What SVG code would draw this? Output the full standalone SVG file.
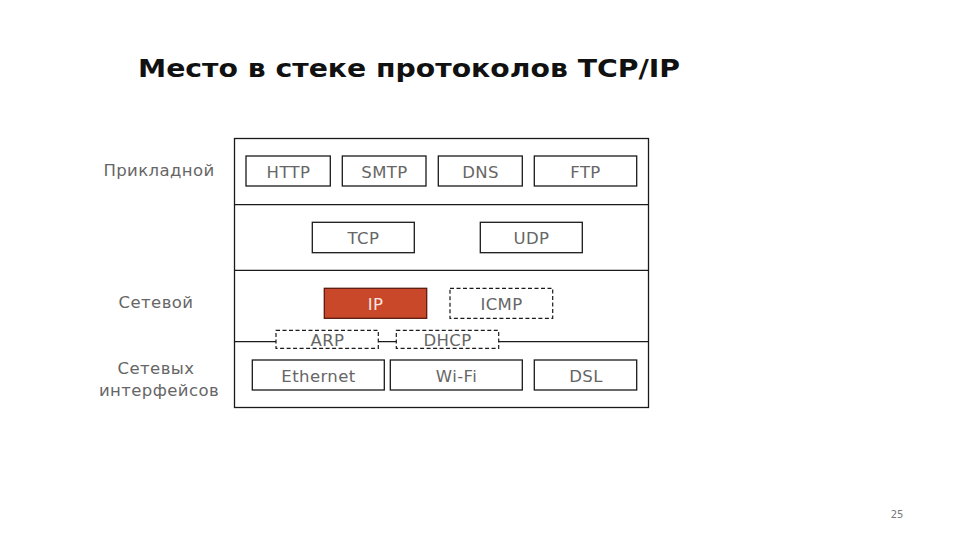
<svg xmlns="http://www.w3.org/2000/svg" width="960" height="540" viewBox="0 0 960 540">
<style>
.box{fill:#fff;stroke:#1a1a1a;stroke-width:1.3}
.dash{fill:#fff;stroke:#1a1a1a;stroke-width:1.2;stroke-dasharray:4 2.5}
.t{font-family:"DejaVu Sans",Verdana,sans-serif;font-size:16.5px;letter-spacing:0.4px;fill:#666;text-anchor:middle}
.lbl{font-family:"DejaVu Sans",Verdana,sans-serif;font-size:16.5px;letter-spacing:0.4px;fill:#666;text-anchor:middle}
.ln{stroke:#1a1a1a;stroke-width:1.3;fill:none}
</style>
<rect width="960" height="540" fill="#fff"/>
<text x="138" y="77" font-family="'DejaVu Sans',Verdana,sans-serif" font-weight="bold" font-size="24" fill="#111" textLength="542" lengthAdjust="spacingAndGlyphs">Место в стеке протоколов TCP/IP</text>
<g id="labels">
<text class="lbl" x="159" y="176">Прикладной</text>
<text class="lbl" x="156" y="308">Сетевой</text>
<text class="lbl" x="156" y="374">Сетевых</text>
<text class="lbl" x="159" y="396">интерфейсов</text>
</g>
<g id="connectors">
<rect class="ln" x="234.5" y="138.5" width="414" height="269"/>
<line class="ln" x1="234.5" y1="204.7" x2="648.5" y2="204.7"/>
<line class="ln" x1="234.5" y1="270.3" x2="648.5" y2="270.3"/>
<line class="ln" x1="234.5" y1="341.7" x2="648.5" y2="341.7"/>
</g>
<g id="HTTP"><rect class="box" x="246" y="156" width="84.3" height="30"/><text class="t" x="288.5" y="177.5">HTTP</text></g>
<g id="SMTP"><rect class="box" x="342.3" y="156" width="83.7" height="30"/><text class="t" x="384.5" y="177.5">SMTP</text></g>
<g id="DNS"><rect class="box" x="438.3" y="156" width="84" height="30"/><text class="t" x="480.5" y="177.5">DNS</text></g>
<g id="FTP"><rect class="box" x="534.3" y="156" width="102.4" height="30"/><text class="t" x="585.5" y="177.5">FTP</text></g>
<g id="TCP"><rect class="box" x="312.3" y="222.3" width="102" height="30.4"/><text class="t" x="363.5" y="243.5">TCP</text></g>
<g id="UDP"><rect class="box" x="480.3" y="222.3" width="102" height="30.4"/><text class="t" x="531.5" y="243.5">UDP</text></g>
<g id="IP"><rect x="324.3" y="288.3" width="102.4" height="30" fill="#C9482A" stroke="#5a1a0e" stroke-width="1.3"/><text class="t" x="375.5" y="309.5" style="fill:#f6e6e0">IP</text></g>
<g id="ICMP"><rect class="dash" x="450" y="288.3" width="102.7" height="30"/><text class="t" x="501.5" y="309.5">ICMP</text></g>
<g id="ARP"><rect class="dash" x="276" y="330.3" width="102.3" height="18"/><text class="t" x="327.5" y="345.5">ARP</text></g>
<g id="DHCP"><rect class="dash" x="396.3" y="330.3" width="102.4" height="18"/><text class="t" x="447.5" y="345.5">DHCP</text></g>
<g id="Ethernet"><rect class="box" x="252.3" y="360" width="132" height="30"/><text class="t" x="318.5" y="381.5">Ethernet</text></g>
<g id="WiFi"><rect class="box" x="390.3" y="360" width="132" height="30"/><text class="t" x="456.5" y="381.5">Wi-Fi</text></g>
<g id="DSL"><rect class="box" x="534.3" y="360" width="102.4" height="30"/><text class="t" x="586" y="381.5">DSL</text></g>
<text x="897" y="518" font-family="'DejaVu Sans',Verdana,sans-serif" font-size="10" fill="#777" text-anchor="middle">25</text>
</svg>
